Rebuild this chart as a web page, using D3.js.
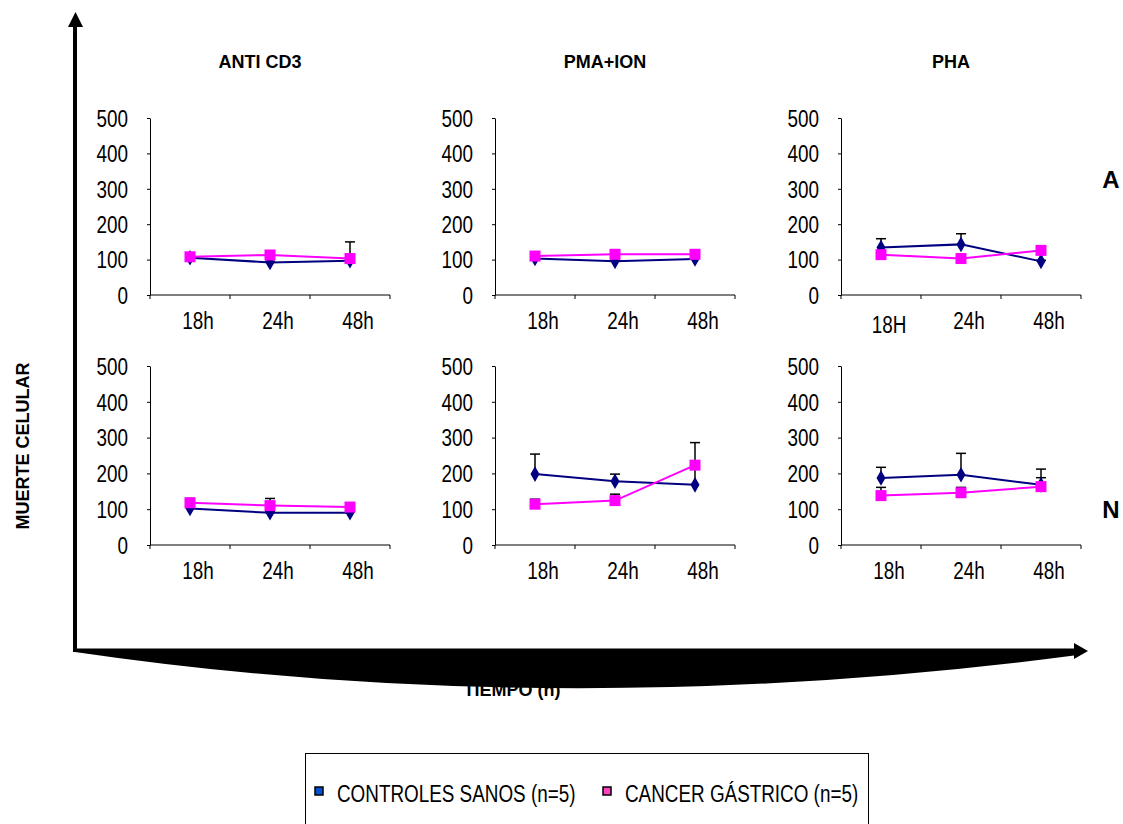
<!DOCTYPE html>
<html>
<head>
<meta charset="utf-8">
<script src="https://cdn.jsdelivr.net/npm/d3@7"></script>
<style>
  body { margin: 0; background: #fff; }
  svg { display: block; }
  .narrow { font-family: "Liberation Sans", Arial, sans-serif; }
  .bold { font-family: "Liberation Sans", Arial, sans-serif; font-weight: bold; }
</style>
</head>
<body>
<svg width="1123" height="824"></svg>
<script>
// **** data ****
var stimuli = ['ANTI CD3', 'PMA+ION', 'PHA'];
var rowLabels = ['A', 'N'];
var times = ['18h', '24h', '48h'];
var timeLabels = [
    ['18h', '24h', '48h'], ['18h', '24h', '48h'], ['18H', '24h', '48h'],
    ['18h', '24h', '48h'], ['18h', '24h', '48h'], ['18h', '24h', '48h']
];
var yTicks = [0, 100, 200, 300, 400, 500];

// panel order: A row (anti CD3, PMA+ION, PHA), then N row
var controlMean = [[105, 92, 97], [103, 95, 102], [134, 143, 95], [102, 90, 90], [198, 178, 168], [187, 196, 168]];
var controlErr  = [[5, 3, 53], [3, 3, 3], [25, 30, 3], [3, 3, 3], [56, 20, 44], [30, 60, 44]];
var cancerMean  = [[108, 113, 103], [110, 115, 115], [114, 103, 126], [118, 110, 106], [114, 124, 223], [138, 146, 163]];
var cancerErr   = [[11, 6, 3], [5, 5, 5], [4, 9, 3], [12, 20, 3], [14, 18, 63], [23, 15, 25]];

var seriesNames = ['CONTROLES SANOS (n=5)', 'CANCER GÁSTRICO (n=5)'];

var svg = d3.select('svg');

// panel placement
var colX = [150, 495, 841];
var rowTop = [118, 366];
var rowBottom = [295, 545];
var panelW = 240;

var navy = '#000080';
var pink = '#ff00ff';

// "TIEMPO (h)" sits behind the black wedge, so draw it first
svg.append('text')
    .attr('class', 'bold')
    .attr('x', 512)
    .attr('y', 696)
    .attr('text-anchor', 'middle')
    .style('font-size', '18px')
    .text('TIEMPO (h)');

// big axes arrows
svg.append('line')
    .attr('x1', 75).attr('y1', 652).attr('x2', 75).attr('y2', 24)
    .attr('stroke', 'black').attr('stroke-width', 4);
svg.append('path')
    .attr('d', 'M68,27 L83,27 L75.5,12 Z')
    .attr('fill', 'black');

svg.append('line')
    .attr('x1', 74).attr('y1', 650).attr('x2', 1076).attr('y2', 650)
    .attr('stroke', 'black').attr('stroke-width', 3);
svg.append('path')
    .attr('d', 'M1074,643 L1074,659 L1088,651 Z')
    .attr('fill', 'black');
svg.append('path')
    .attr('d', 'M75,649 L1078,649 L1078,655 Q560,723 75,652 Z')
    .attr('fill', 'black');

// y title
svg.append('text')
    .attr('class', 'bold')
    .attr('transform', 'translate(29,446) rotate(-90)')
    .attr('text-anchor', 'middle')
    .style('font-size', '18px')
    .text('MUERTE CELULAR');

// column titles
stimuli.forEach(function(s, i) {
    svg.append('text')
        .attr('class', 'bold')
        .attr('x', colX[i] + 110)
        .attr('y', 68)
        .attr('text-anchor', 'middle')
        .style('font-size', '18px')
        .text(s);
});

// row letters
rowLabels.forEach(function(r, i) {
    svg.append('text')
        .attr('class', 'bold')
        .attr('x', 1111)
        .attr('y', i === 0 ? 188 : 518)
        .attr('text-anchor', 'middle')
        .style('font-size', '24px')
        .text(r);
});

var diamond = d3.symbol().type(d3.symbolDiamond).size(70);

function drawPanel(p) {
    var row = Math.floor(p / 3), col = p % 3;
    var x0 = colX[col];

    var x = d3.scaleBand().domain(times).range([x0, x0 + panelW]);
    var y = d3.scaleLinear().domain([0, 500]).range([rowBottom[row], rowTop[row]]);
    var cx = function(t) { return x(t) + x.bandwidth() / 2; };

    var g = svg.append('g');

    // y axis
    var yAxis = d3.axisLeft(y).tickValues(yTicks).tickSize(3).tickSizeOuter(0).tickPadding(19);
    var ya = g.append('g')
        .attr('transform', 'translate(' + x0 + ',0)')
        .call(yAxis);
    ya.selectAll('text')
        .attr('class', 'narrow')
        .style('font-size', '23px')
        .attr('fill', 'black')
        .attr('dy', '0.36em');
    ya.select('.domain').attr('stroke', 'black');

    // x axis: line and ticks at band edges, labels under each band
    var base = y(0);
    g.append('line')
        .attr('x1', x0).attr('x2', x0 + panelW)
        .attr('y1', base).attr('y2', base)
        .attr('stroke', 'black');
    var edges = [x0].concat(times.map(function(t) { return x(t) + x.bandwidth(); }));
    g.selectAll('.xtick')
        .data(edges)
        .enter().append('line')
        .attr('x1', d => d).attr('x2', d => d)
        .attr('y1', base).attr('y2', base + 4)
        .attr('stroke', 'black');
    g.selectAll('.xlab')
        .data(times)
        .enter().append('text')
        .attr('class', 'narrow')
        .attr('x', d => cx(d) + 8)
        .attr('y', (d, i) => base + 34 + (p === 2 && i === 0 ? 4 : 0))
        .attr('text-anchor', 'middle')
        .style('font-size', '23px')
        .text((d, i) => timeLabels[p][i]);

    var series = [
        { mean: controlMean[p], err: controlErr[p], color: navy, shape: 'diamond' },
        { mean: cancerMean[p], err: cancerErr[p], color: pink, shape: 'square' }
    ];

    // error bars (upper only)
    series.forEach(function(s) {
        times.forEach(function(t, i) {
            var top = y(s.mean[i] + s.err[i]);
            g.append('line')
                .attr('x1', cx(t)).attr('x2', cx(t))
                .attr('y1', y(s.mean[i])).attr('y2', top)
                .attr('stroke', 'black').attr('stroke-width', 1.5);
            g.append('line')
                .attr('x1', cx(t) - 5).attr('x2', cx(t) + 5)
                .attr('y1', top).attr('y2', top)
                .attr('stroke', 'black').attr('stroke-width', 1.5);
        });
    });

    var line = d3.line()
        .x((d, i) => cx(times[i]))
        .y(d => y(d));

    series.forEach(function(s) {
        g.append('path')
            .datum(s.mean)
            .attr('d', line)
            .attr('fill', 'none')
            .attr('stroke', s.color)
            .attr('stroke-width', 2);
    });

    series.forEach(function(s) {
        times.forEach(function(t, i) {
            if (s.shape === 'diamond') {
                g.append('path')
                    .attr('d', diamond)
                    .attr('transform', 'translate(' + cx(t) + ',' + y(s.mean[i]) + ')')
                    .attr('fill', s.color);
            } else {
                g.append('rect')
                    .attr('x', cx(t) - 5.5).attr('y', y(s.mean[i]) - 5.5)
                    .attr('width', 11).attr('height', 11)
                    .attr('fill', s.color);
            }
        });
    });
}

for (var p = 0; p < 6; p++) drawPanel(p);

// legend
var legend = svg.append('g');
legend.append('rect')
    .attr('x', 305.5).attr('y', 753.5)
    .attr('width', 563).attr('height', 90)
    .attr('fill', 'white').attr('stroke', 'black');

var legendX = [315, 603];
var legendFill = ['#0050d0', '#ff40c0'];
seriesNames.forEach(function(n, i) {
    legend.append('rect')
        .attr('x', legendX[i]).attr('y', 787)
        .attr('width', 8).attr('height', 8)
        .attr('fill', legendFill[i])
        .attr('stroke', 'black').attr('stroke-width', 1.5);
    legend.append('text')
        .attr('class', 'narrow')
        .attr('x', legendX[i] + 22)
        .attr('y', 802)
        .style('font-size', '23px')
        .text(n);
});

// no narrow font installed: squeeze the regular one to an Arial Narrow width
svg.selectAll('text.narrow').each(function() {
    var w = this.getComputedTextLength();
    d3.select(this)
        .attr('textLength', w * 0.82)
        .attr('lengthAdjust', 'spacingAndGlyphs');
});
</script>
</body>
</html>
